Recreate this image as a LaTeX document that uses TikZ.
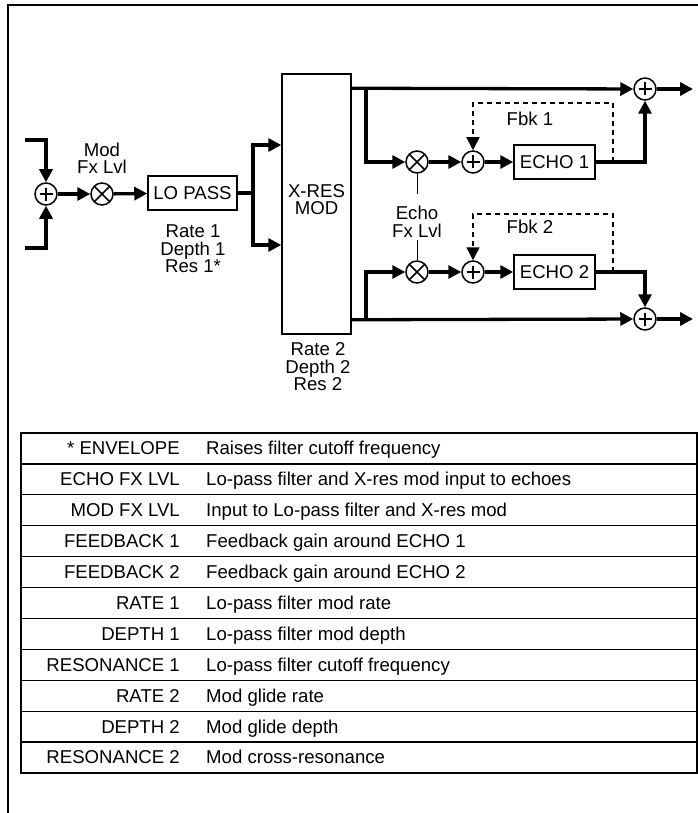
\documentclass[tikz,border=0pt]{standalone}
\usepackage{fontspec}
\setmainfont{Liberation Sans}
\usetikzlibrary{arrows.meta,positioning}

\begin{document}
\begin{tikzpicture}[x=1pt,y=-1pt,>={Triangle[length=13pt,width=13pt]},
  sig/.style={line width=3.3pt},
  fbk/.style={line width=1.5pt,dash pattern=on 5pt off 4pt},
  txt/.style={align=center,inner sep=0pt,font=\fontsize{18.6}{17.5}\selectfont},
  blk/.style={draw,line width=1.5pt,minimum height=34pt,inner sep=0pt,font=\fontsize{18.6}{18}\selectfont},
  sumr/.style={circle,draw,line width=1.5pt,minimum size=22pt,inner sep=0pt,
    path picture={\draw[line width=1.6pt] (path picture bounding box.center) ++(-6.5,0) -- ++(13,0)
      (path picture bounding box.center) ++(0,-6.5) -- ++(0,13);}},
  mulr/.style={circle,draw,line width=1.5pt,minimum size=22pt,inner sep=0pt,
    path picture={\draw[line width=1.5pt] (path picture bounding box.center) ++(7.8,7.8) -- ++(-15.6,-15.6)
      (path picture bounding box.center) ++(-7.8,7.8) -- ++(15.6,-15.6);}}]
\useasboundingbox (0,0) rectangle (698,813);
\draw[line width=2.5pt] (8,813) -- (8,5) -- (698,5);

\node[sumr] (sin) at (46,194) {};
\node[mulr] (min) at (102,194) {};
\node[txt] (modlvl) at (102,158.5) {Mod\\Fx Lvl};
\node[blk,minimum width=89pt] (lp) at (192.5,193) {LO PASS};
\node[txt] (lpset) at (193,249) {Rate 1\\Depth 1\\Res 1*};
\node[draw,line width=1.5pt,minimum width=69pt,minimum height=260pt] (xr) at (316.5,204) {};
\node[txt] (xrtxt) at (316.5,199.5) {X-RES\\MOD};
\node[txt] (xrset) at (318,367) {Rate 2\\Depth 2\\Res 2};

\coordinate (inA) at (25,140);
\coordinate (inB) at (25,248);
\coordinate (brA) at (253,193);
\draw[sig,->] (inA) -| (sin.north);
\draw[sig,->] (inB) -| (sin.south);
\draw[sig,->] (sin) -- (min);
\draw[sig,->] (min) -- (lp);
\draw[sig] (lp) -- (brA);
\draw[sig,->] (brA) |- ([yshift=59pt]xr.west);
\draw[sig,->] (brA) |- ([yshift=-41pt]xr.west);

\node[sumr] (st) at (645,89) {};
\node[sumr] (sb) at (645,319) {};
\node[mulr] (m1) at (417,162) {};
\node[mulr] (m2) at (417,272) {};
\node[sumr] (s1) at (473,162) {};
\node[sumr] (s2) at (473,272) {};
\node[blk,minimum width=81pt] (e1) at (554.5,162) {ECHO 1};
\node[blk,minimum width=81pt] (e2) at (554.5,272) {ECHO 2};
\node[txt] (efl) at (417,222) {Echo\\Fx Lvl};
\node[txt] (fb1) at (530,119) {Fbk 1};
\node[txt] (fb2) at (530,227) {Fbk 2};

\coordinate (brB) at (366,89);
\coordinate (brC) at (366,319);
\coordinate (oA) at (693,89);
\coordinate (oB) at (693,319);
\coordinate (f1) at (613,162);
\coordinate (f1t) at (613,103);
\coordinate (f2) at (613,272);
\coordinate (f2t) at (613,214);
\draw[sig,->] ([yshift=-15pt]xr.north east) -- (st);
\draw[sig,->] ([yshift=15pt]xr.south east) -- (sb);
\draw[sig,->] (brB) |- (m1);
\draw[sig,->] (brC) |- (m2);
\draw[sig,->] (m1) -- (s1);
\draw[sig,->] (m2) -- (s2);
\draw[sig,->] (s1) -- (e1);
\draw[sig,->] (s2) -- (e2);
\draw[sig,->] (e1) -| (st.south);
\draw[sig,->] (e2) -| (sb.north);
\draw[sig,->] (st) -- (oA);
\draw[sig,->] (sb) -- (oB);
\draw[fbk,->] (f1) -- (f1t) -| (s1.north);
\draw[fbk,->] (f2) -- (f2t) -| (s2.north);
\draw[line width=1pt] (m1) -- ([yshift=-20pt]m1.south);
\draw[line width=1pt] (m2) -- ([yshift=20pt]m2.north);

\draw[line width=2.5pt] (21,433) rectangle (697,773);
\foreach \n in {1,...,10} \draw[line width=1.2pt] (21,433+\n*30.9) -- (697,433+\n*30.9);
\foreach \lab/\desc [count=\n from 0] in {{* ENVELOPE}/{Raises filter cutoff frequency},
    {ECHO FX LVL}/{Lo-pass filter and X-res mod input to echoes},
    {MOD FX LVL}/{Input to Lo-pass filter and X-res mod},
    {FEEDBACK 1}/{Feedback gain around ECHO 1},
    {FEEDBACK 2}/{Feedback gain around ECHO 2},
    {RATE 1}/{Lo-pass filter mod rate},
    {DEPTH 1}/{Lo-pass filter mod depth},
    {RESONANCE 1}/{Lo-pass filter cutoff frequency},
    {RATE 2}/{Mod glide rate},
    {DEPTH 2}/{Mod glide depth},
    {RESONANCE 2}/{Mod cross-resonance}} {
  \node[txt,anchor=base east] (lab\n) at (180,{433+(\n+0.5)*30.9+6.5}) {\lab};
  \node[txt,anchor=base west] (desc\n) at (206,{433+(\n+0.5)*30.9+6.5}) {\desc};
}
\end{tikzpicture}
\end{document}
